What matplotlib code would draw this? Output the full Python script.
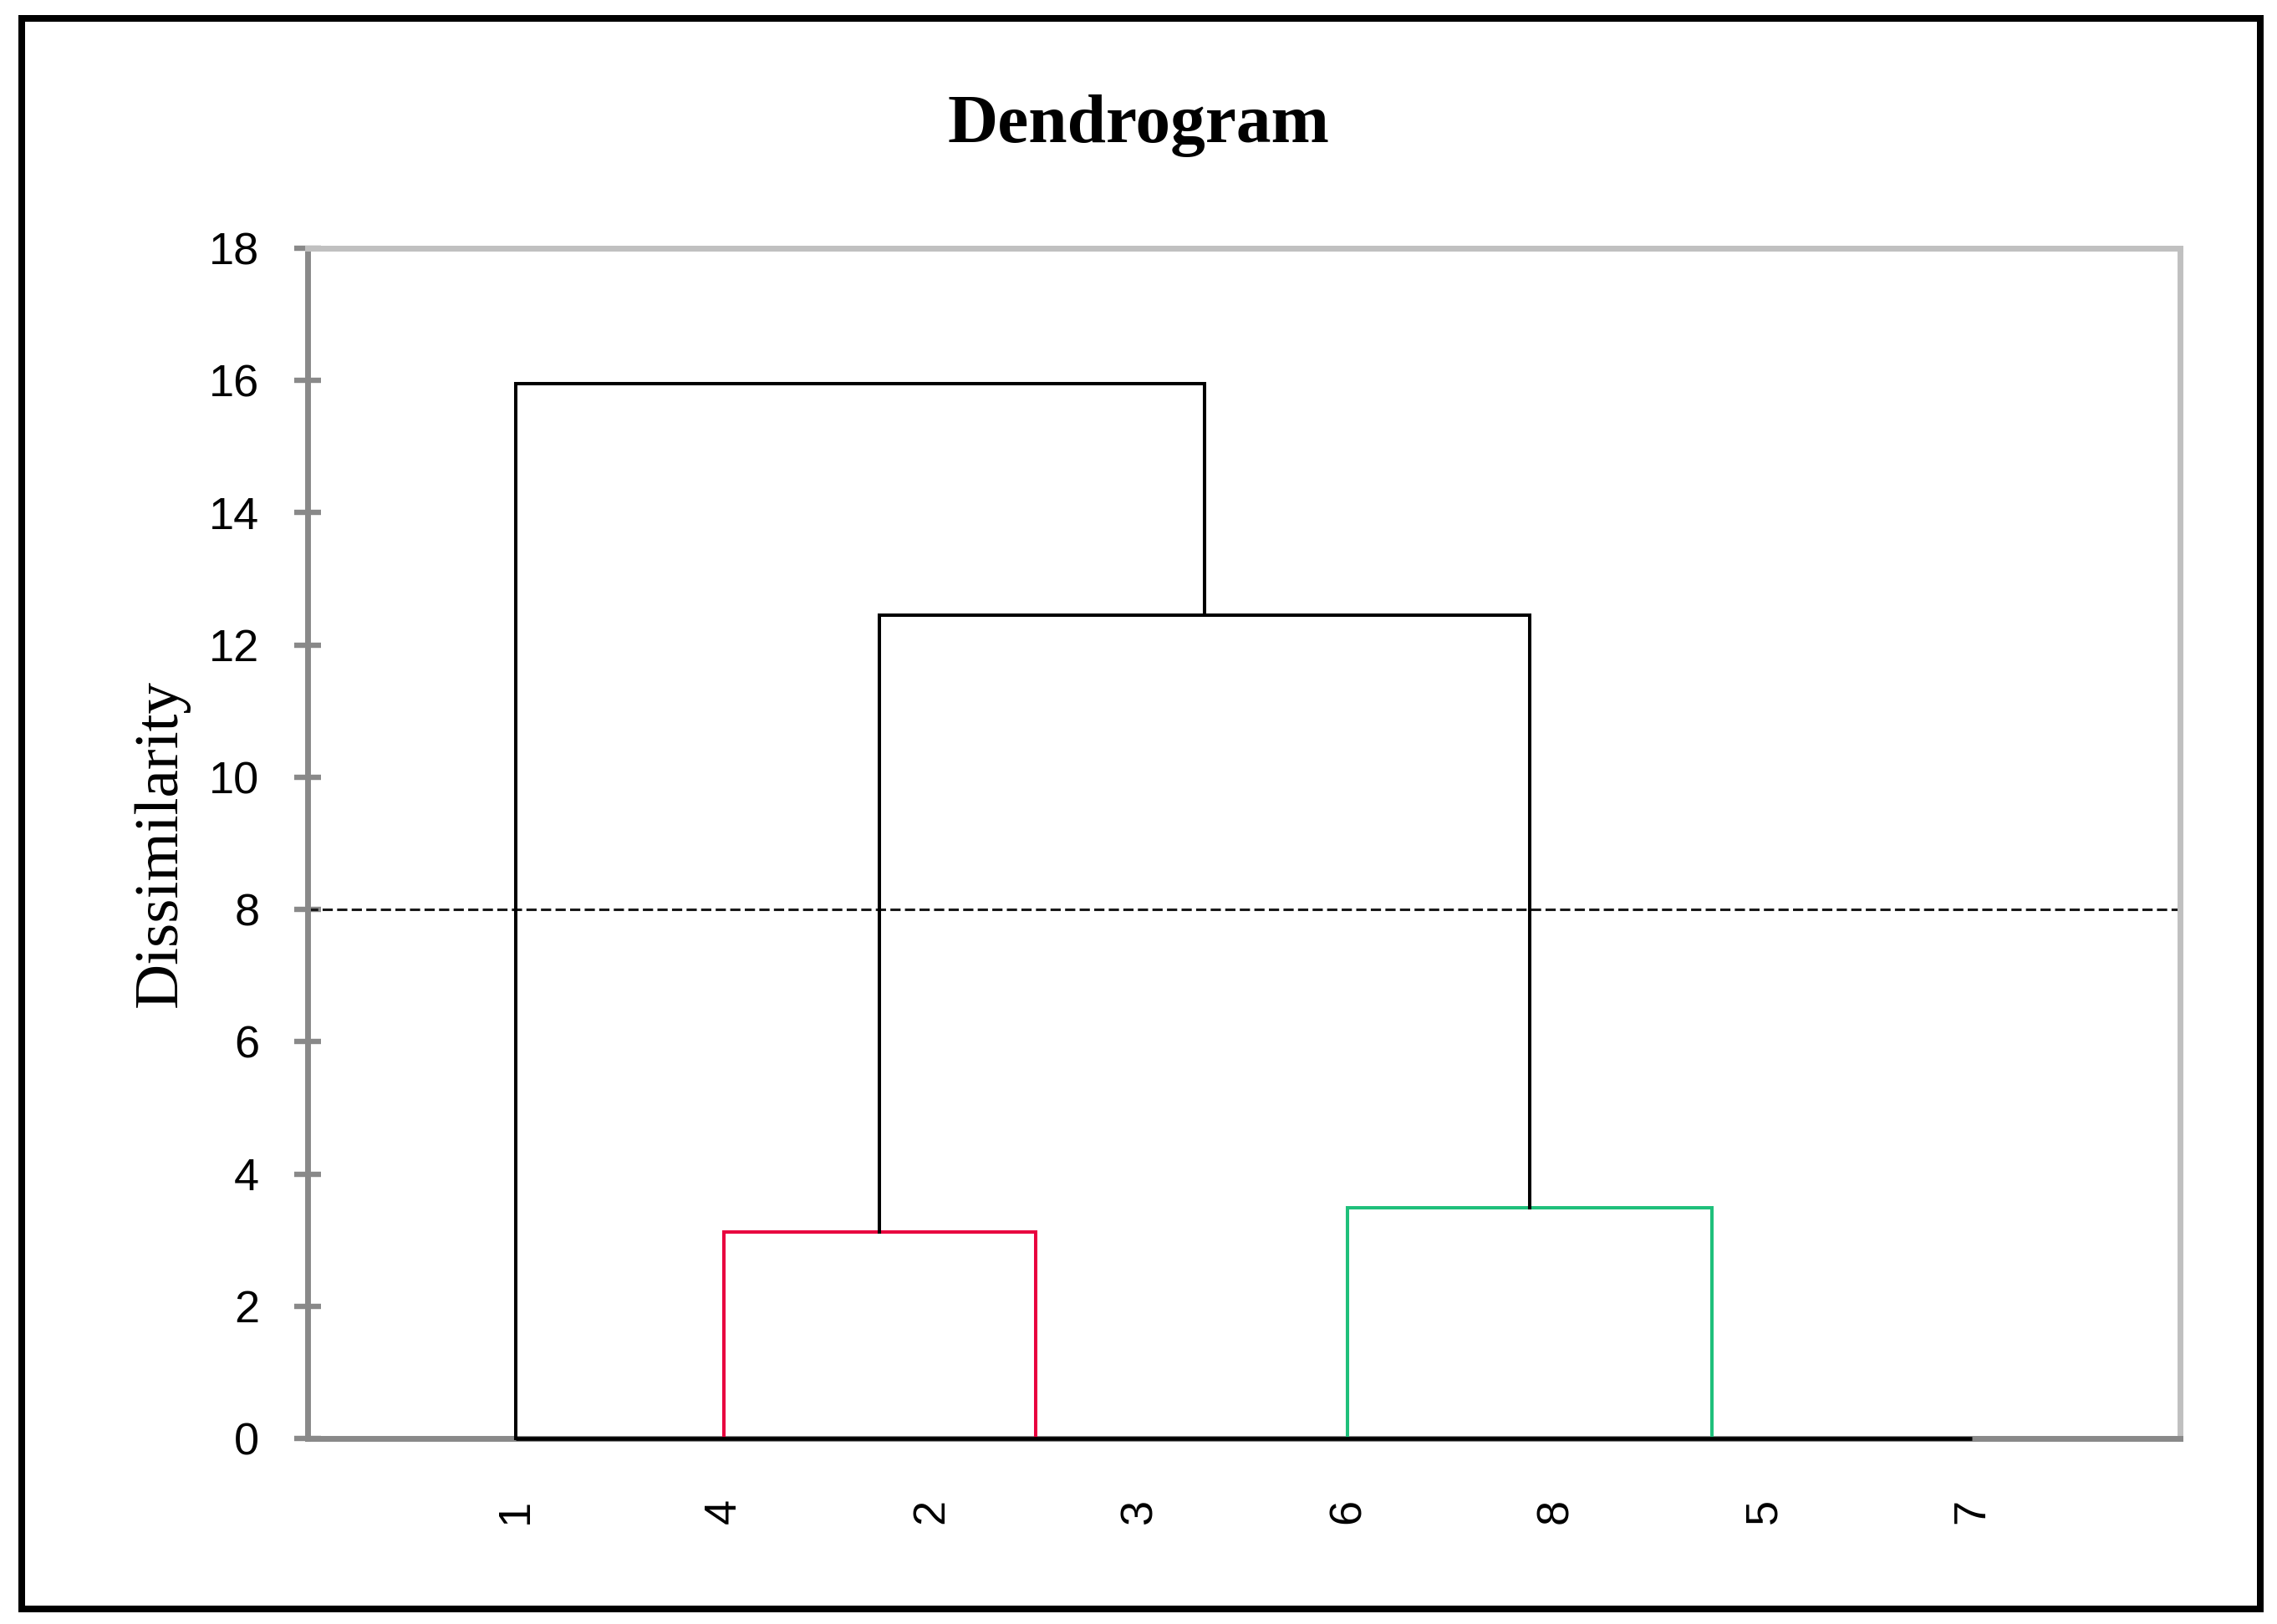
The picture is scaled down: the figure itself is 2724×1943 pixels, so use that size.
import matplotlib
matplotlib.use("Agg")
import matplotlib.pyplot as plt
from matplotlib.lines import Line2D

# leaves in display order
leaf_labels = ['1', '4', '2', '3', '6', '8', '5', '7']

# merges (scipy style ids: leaves 0..7, new nodes 8, 9, ...)
merge_a = [2, 6, 5, 1, 4, 11, 0]
merge_b = [3, 7, 9, 8, 10, 12, 13]
merge_height = [0.0, 0.0, 0.0, 3.12, 3.49, 12.45, 15.95]
merge_color = ['black', 'black', 'black', '#E8003F', '#1FC07B', 'black', 'black']

cut_level = 8
y_ticks = [0, 2, 4, 6, 8, 10, 12, 14, 16, 18]

W, H, DPI = 2724, 1943, 200
fig = plt.figure(figsize=(W / DPI, H / DPI), dpi=DPI)
ax = fig.add_axes([368 / W, 1 - 1721 / H, 2240 / W, 1424 / H])

serif = ['Liberation Serif', 'DejaVu Serif']
sans = ['Liberation Sans', 'DejaVu Sans']

# positions/heights of every node
n = len(leaf_labels)
node_x = {i: float(i) for i in range(n)}
node_h = {i: 0.0 for i in range(n)}

for k, (a, b, h, c) in enumerate(zip(merge_a, merge_b, merge_height, merge_color)):
    xa, xb = node_x[a], node_x[b]
    if h > 0:
        ax.plot([xa, xa, xb, xb], [node_h[a], h, h, node_h[b]], color=c,
                lw=1.45, solid_joinstyle='miter', zorder=3, clip_on=False)
    node_x[n + k] = (xa + xb) / 2
    node_h[n + k] = h

# baseline at zero across all leaves
ax.plot([0, n - 1], [0, 0], color='black', lw=1.7, zorder=3.5, clip_on=False,
        solid_capstyle='butt')

# cut line
ax.axhline(cut_level, color='#1a1a1a', lw=1.1, ls=(0, (4, 1.7)), zorder=2)

ax.set_xlim(-1, n)
ax.set_ylim(0, 18)
ax.set_yticks(y_ticks)
ax.set_xticks(range(n))
ax.set_xticklabels(leaf_labels, rotation=90, family=sans, fontsize=19.5)
ax.set_yticklabels([str(t) for t in y_ticks], family=sans, fontsize=19.5)

ax.tick_params(axis='y', direction='inout', length=11.5, width=2.3,
               color='#898989', pad=15)
ax.tick_params(axis='x', length=0, pad=26)

for side in ['left', 'bottom']:
    ax.spines[side].set_color('#898989')
    ax.spines[side].set_linewidth(2.5)
for side in ['top', 'right']:
    ax.spines[side].set_color('#c0c0c0')
    ax.spines[side].set_linewidth(2.5)

ax.set_ylabel('Dissimilarity', family=serif, fontsize=27)
ax.yaxis.set_label_coords(-0.063, 0.5)

fig.text(0.5, 1 - 170 / H, 'Dendrogram', family=serif, fontweight='bold',
         fontsize=30, ha='center', va='baseline')

# outer frame
lw_frame = 8 * 72 / DPI
x0, x1 = 26 / W, 2704 / W
y0, y1 = 1 - 1925 / H, 1 - 22 / H
fig.add_artist(Line2D([x0, x1, x1, x0, x0], [y0, y0, y1, y1, y0],
                      transform=fig.transFigure, color='black', lw=lw_frame,
                      solid_joinstyle='miter'))

fig.savefig('out.png', dpi=DPI, facecolor='white')
